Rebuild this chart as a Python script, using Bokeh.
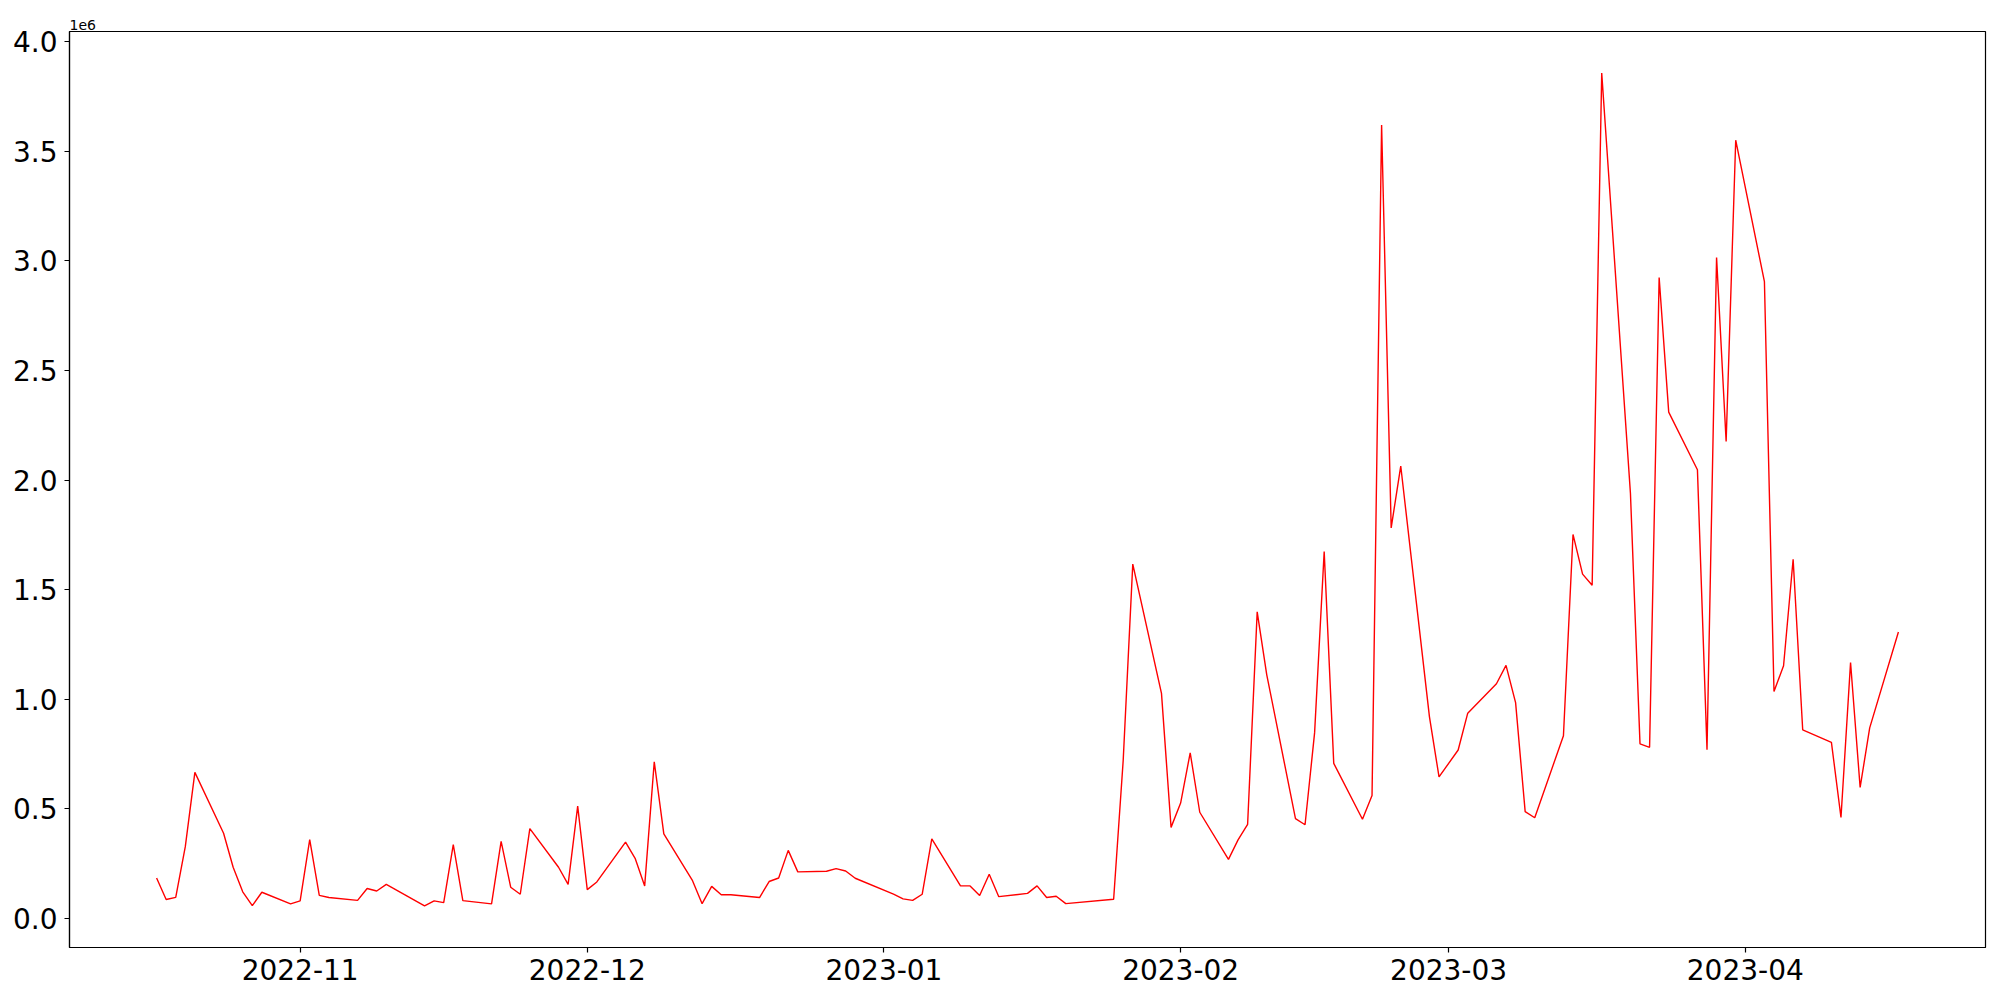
import pandas as pd
from bokeh.plotting import figure
from bokeh.models import (Range1d, FixedTicker, DatetimeTickFormatter,
                          NumeralTickFormatter, ColumnDataSource)
from bokeh.embed import file_html
from bokeh.resources import INLINE

dates = [
    "2022-10-17", "2022-10-18", "2022-10-19", "2022-10-20", "2022-10-21",
    "2022-10-24", "2022-10-25", "2022-10-26", "2022-10-27", "2022-10-28",
    "2022-10-31", "2022-11-01", "2022-11-02", "2022-11-03", "2022-11-04",
    "2022-11-07", "2022-11-08", "2022-11-09", "2022-11-10",
    "2022-11-14", "2022-11-15", "2022-11-16", "2022-11-17", "2022-11-18",
    "2022-11-21", "2022-11-22", "2022-11-23", "2022-11-24", "2022-11-25",
    "2022-11-28", "2022-11-29", "2022-11-30", "2022-12-01", "2022-12-02",
    "2022-12-05", "2022-12-06", "2022-12-07", "2022-12-08", "2022-12-09",
    "2022-12-12", "2022-12-13", "2022-12-14", "2022-12-15", "2022-12-16",
    "2022-12-19", "2022-12-20", "2022-12-21", "2022-12-22", "2022-12-23",
    "2022-12-26", "2022-12-27", "2022-12-28", "2022-12-29",
    "2023-01-02", "2023-01-03", "2023-01-04", "2023-01-05", "2023-01-06",
    "2023-01-09", "2023-01-10", "2023-01-11", "2023-01-12", "2023-01-13",
    "2023-01-16", "2023-01-17", "2023-01-18", "2023-01-19", "2023-01-20",
    "2023-01-25", "2023-01-26", "2023-01-27",
    "2023-01-30", "2023-01-31", "2023-02-01", "2023-02-02", "2023-02-03",
    "2023-02-06", "2023-02-07", "2023-02-08", "2023-02-09", "2023-02-10",
    "2023-02-13", "2023-02-14", "2023-02-15", "2023-02-16", "2023-02-17",
    "2023-02-20", "2023-02-21", "2023-02-22", "2023-02-23", "2023-02-24",
    "2023-02-27", "2023-02-28", "2023-03-02", "2023-03-03",
    "2023-03-06", "2023-03-07", "2023-03-08", "2023-03-09", "2023-03-10",
    "2023-03-13", "2023-03-14", "2023-03-15", "2023-03-16", "2023-03-17",
    "2023-03-20", "2023-03-21", "2023-03-22", "2023-03-23", "2023-03-24",
    "2023-03-27", "2023-03-28", "2023-03-29", "2023-03-30", "2023-03-31",
    "2023-04-03", "2023-04-04", "2023-04-05", "2023-04-06", "2023-04-07",
    "2023-04-10", "2023-04-11", "2023-04-12", "2023-04-13", "2023-04-14",
    "2023-04-17",
]

# values in units of 1e6
values_1e6 = [
    0.185, 0.087, 0.097, 0.328, 0.667,
    0.389, 0.234, 0.122, 0.059, 0.120,
    0.067, 0.081, 0.360, 0.106, 0.096,
    0.083, 0.137, 0.126, 0.156,
    0.058, 0.081, 0.073, 0.337, 0.082,
    0.067, 0.352, 0.143, 0.111, 0.410,
    0.234, 0.156, 0.513, 0.132, 0.167,
    0.349, 0.275, 0.149, 0.715, 0.386,
    0.173, 0.068, 0.147, 0.109, 0.109,
    0.096, 0.169, 0.185, 0.311, 0.213,
    0.216, 0.228, 0.217, 0.184,
    0.112, 0.090, 0.083, 0.111, 0.364,
    0.149, 0.149, 0.105, 0.202, 0.100,
    0.115, 0.149, 0.096, 0.102, 0.068,
    0.088, 0.722, 1.617,
    1.027, 0.416, 0.527, 0.756, 0.485,
    0.270, 0.359, 0.430, 1.399, 1.112,
    0.456, 0.428, 0.848, 1.674, 0.708,
    0.453, 0.561, 3.619, 1.782, 2.064,
    0.920, 0.646, 0.769, 0.937,
    1.071, 1.155, 0.985, 0.488, 0.460,
    0.834, 1.752, 1.571, 1.520, 3.856,
    1.940, 0.797, 0.781, 2.924, 2.310,
    2.047, 0.770, 3.015, 2.176, 3.550,
    2.905, 1.036, 1.153, 1.639, 0.861,
    0.804, 0.461, 1.168, 0.598, 0.870,
    1.307,
]

month_ticks = ["2022-11-01", "2022-12-01", "2023-01-01",
               "2023-02-01", "2023-03-01", "2023-04-01"]
y_ticks = [0.0, 0.5, 1.0, 1.5, 2.0, 2.5, 3.0, 3.5, 4.0]

dt = pd.to_datetime(dates)
src = ColumnDataSource(dict(x=dt, y=values_1e6))

# matplotlib-like 5% margins
xmin, xmax = dt.min(), dt.max()
xpad = (xmax - xmin) * 0.05
ymin, ymax = min(values_1e6), max(values_1e6)
ypad = (ymax - ymin) * 0.05

p = figure(width=1992, height=992, x_axis_type="datetime",
           output_backend="svg", toolbar_location=None,
           x_range=Range1d(xmin - xpad, xmax + xpad),
           y_range=Range1d(ymin - ypad, ymax + ypad),
           min_border_left=69, min_border_right=7,
           min_border_top=31, min_border_bottom=45)

p.line("x", "y", source=src, line_color="red", line_width=1.4)

p.title.text = "1e6"
p.title.align = "left"
p.title.text_font = "DejaVu Sans"
p.title.text_font_size = "14px"
p.title.text_font_style = "normal"
p.title.text_color = "black"
p.title.standoff = 3
p.title.offset = 0

p.xgrid.visible = False
p.ygrid.visible = False
p.outline_line_color = "black"
p.outline_line_width = 1.2
p.background_fill_color = "white"
p.border_fill_color = "white"

tick_ms = [pd.Timestamp(t).value // 10**6 for t in month_ticks]
p.xaxis.ticker = FixedTicker(ticks=tick_ms)
fmt = "%Y-%m"
p.xaxis.formatter = DatetimeTickFormatter(
    milliseconds=fmt, seconds=fmt, minsec=fmt, minutes=fmt, hourmin=fmt,
    hours=fmt, days=fmt, months=fmt, years=fmt)
p.yaxis.ticker = FixedTicker(ticks=y_ticks)
p.yaxis.formatter = NumeralTickFormatter(format="0.0")

for ax in (p.xaxis[0], p.yaxis[0]):
    ax.major_label_text_font = "DejaVu Sans"
    ax.major_label_text_font_size = "28px"
    ax.major_label_text_color = "black"
    ax.axis_line_color = "black"
    ax.axis_line_width = 1.2
    ax.major_tick_line_color = "black"
    ax.major_tick_line_width = 1.2
    ax.major_tick_out = 5
    ax.major_tick_in = 0
    ax.minor_tick_line_color = None

p.xaxis.major_label_standoff = 6
p.yaxis.major_label_standoff = 7

open("out.html", "w").write(file_html(p, INLINE))
